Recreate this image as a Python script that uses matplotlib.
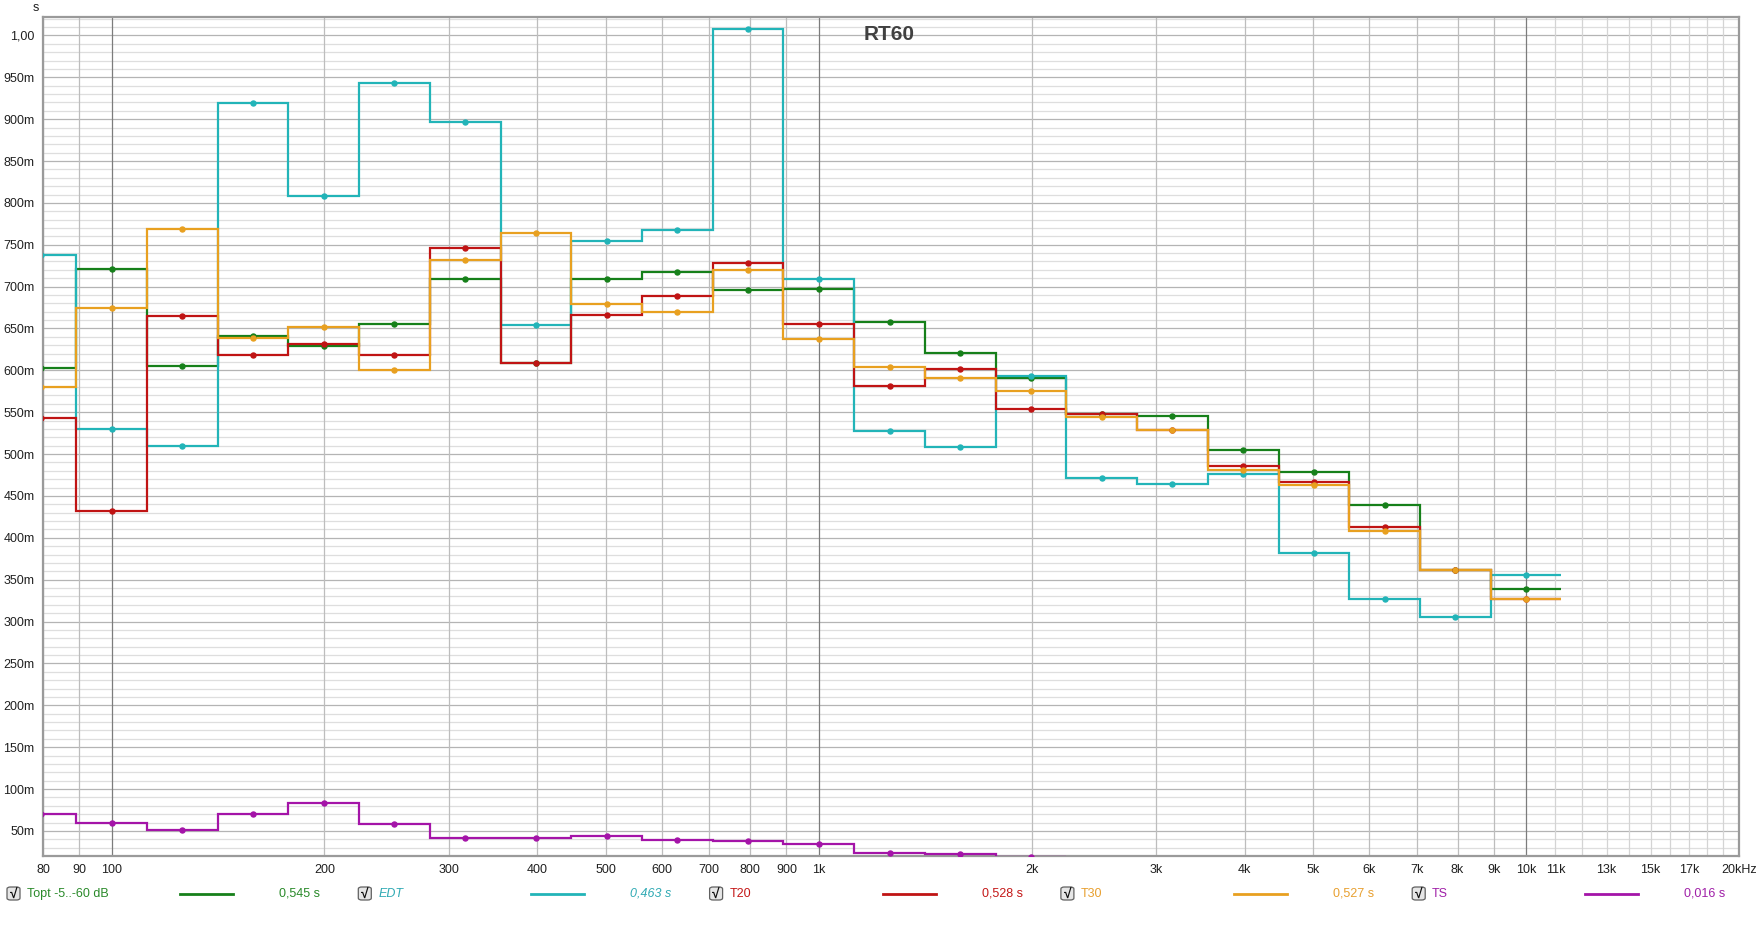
import numpy as np
import matplotlib
matplotlib.use("Agg")
import matplotlib.pyplot as plt
from matplotlib.patches import FancyBboxPatch
from matplotlib.lines import Line2D

plt.rcParams['font.family'] = ['Liberation Sans', 'DejaVu Sans']

# 1/3 octave band centres (Hz)
bands = [80, 100, 125, 160, 200, 250, 315, 400, 500, 630, 800,
         1000, 1250, 1600, 2000, 2500, 3150, 4000, 5000, 6300, 8000, 10000]

# RT60 values in seconds
topt = [0.6025, 0.7208, 0.6049, 0.641, 0.6295, 0.6554, 0.709, 0.609, 0.7092, 0.718, 0.6964,
        0.697, 0.6574, 0.6204, 0.5909, 0.548, 0.5455, 0.505, 0.4786, 0.4387, 0.361, 0.339]
edt = [0.738, 0.5296, 0.5096, 0.919, 0.808, 0.943, 0.897, 0.654, 0.7546, 0.7674, 1.0071,
       0.7088, 0.5272, 0.5084, 0.5933, 0.471, 0.4639, 0.4762, 0.3814, 0.3268, 0.3049, 0.3555]
t20 = [0.5435, 0.432, 0.665, 0.618, 0.632, 0.6187, 0.746, 0.6087, 0.6662, 0.6885, 0.7287,
       0.655, 0.5817, 0.6017, 0.5538, 0.5479, 0.5284, 0.4861, 0.4666, 0.4125, 0.3618, 0.3265]
t30 = [0.580, 0.6745, 0.769, 0.639, 0.652, 0.601, 0.7315, 0.7645, 0.6797, 0.6694, 0.7196,
       0.6371, 0.6037, 0.5905, 0.5754, 0.5446, 0.5284, 0.481, 0.4627, 0.4084, 0.3618, 0.3265]
ts_bands = bands[:15]
ts = [0.070, 0.0596, 0.0508, 0.070, 0.0831, 0.058, 0.0413, 0.042, 0.0444, 0.0392, 0.0384,
      0.0348, 0.0233, 0.022, 0.019]

legend_names = ["Topt -5..-60 dB", "EDT", "T20", "T30", "TS"]
legend_values = ["0,545 s", "0,463 s", "0,528 s", "0,527 s", "0,016 s"]

x_labels = {80: "80", 90: "90", 100: "100", 200: "200", 300: "300", 400: "400", 500: "500",
            600: "600", 700: "700", 800: "800", 900: "900", 1000: "1k", 2000: "2k", 3000: "3k",
            4000: "4k", 5000: "5k", 6000: "6k", 7000: "7k", 8000: "8k", 9000: "9k",
            10000: "10k", 11000: "11k", 13000: "13k", 15000: "15k", 17000: "17k", 20000: "20kHz"}

colors = ['#16801a', '#22b4b8', '#c01414', '#e8a020', '#a414a8']
text_colors = ['#2a8a2a', '#30aab4', '#c41818', '#e8a030', '#a020a8']


def band_geometry(centres):
    n = np.round(10 * np.log10(centres))
    edges = np.append(10 ** ((n - 0.5) / 10), 10 ** ((n[-1] + 0.5) / 10))
    return 10 ** (n / 10), edges


fig = plt.figure(figsize=(17.61, 9.32), dpi=100)
ax = fig.add_axes([43 / 1761, 1 - 856 / 932, (1739 - 43) / 1761, (856 - 17) / 932])
ax.set_xscale('log')
ax.set_xlim(80, 20000)
ax.set_ylim(0.02, 1.022)

# grid: horizontal first, verticals on top
for y in np.arange(0.03, 1.021, 0.01):
    major = abs(round(y * 100) % 5) == 0
    ax.axhline(y, color='#b4b4b4' if major else '#dedede', lw=0.9, zorder=0)
for x in x_labels.keys() | {12000, 14000, 16000, 18000, 19000}:
    if x in (100, 1000, 10000):
        c = '#7c7c7c'
    elif x > 10000:
        c = '#d4d4d4'
    else:
        c = '#bdbdbd'
    ax.axvline(x, color=c, lw=0.9, zorder=1)

series = [(topt, bands), (edt, bands), (t20, bands), (t30, bands), (ts, ts_bands)]
for (vals, bb), col in zip(series, colors):
    centres, edges = band_geometry(np.array(bb, dtype=float))
    ax.stairs(vals, edges, color=col, lw=1.6, baseline=None, zorder=3)
    ax.plot(centres, vals, 'o', color=col, ms=3.6, zorder=4)

ax.minorticks_off()
ax.set_xticks(list(x_labels.keys()))
ax.set_xticklabels(list(x_labels.values()))
for lbl in ax.get_xticklabels():
    if lbl.get_text() in ("11k", "13k", "15k", "17k"):
        lbl.set_color('#a0a0a0')
yt = np.arange(0.05, 1.001, 0.05)
ax.set_yticks(yt)
ax.set_yticklabels(["1,00" if abs(v - 1) < 1e-6 else "%dm" % round(v * 1000) for v in yt])
ax.tick_params(length=0, labelsize=9, pad=6, colors='#202020')
for s in ax.spines.values():
    s.set_color('#9a9a9a')
    s.set_linewidth(1.6)

ax.text(0.499, 0.979, "RT60", transform=ax.transAxes, ha='center', va='center',
        fontsize=15, fontweight='bold', color='#404040')
fig.text(36 / 1761, 1 - 8 / 932, "s", ha='center', va='center', fontsize=9, color='#202020')

# legend row
ly = 1 - 894 / 932
for i, (name, val) in enumerate(zip(legend_names, legend_values)):
    base = 7 + 351.3 * i
    fig.patches.append(FancyBboxPatch((base / 1761, ly - 6 / 932), 13 / 1761, 13 / 932,
                                      boxstyle="round,pad=0,rounding_size=0.002",
                                      transform=fig.transFigure, facecolor='#e6e6e6',
                                      edgecolor='#606060', lw=0.9))
    fig.text((base + 6.5) / 1761, ly + 0.5 / 932, "√", ha='center', va='center',
             fontsize=10, fontweight='bold', color='#101010')
    style = 'italic' if name == "EDT" else 'normal'
    fig.text((base + 20) / 1761, ly, name, ha='left', va='center', fontsize=9,
             color=text_colors[i], style=style)
    fig.lines.append(Line2D([(base + 173) / 1761, (base + 226) / 1761], [ly, ly],
                            transform=fig.transFigure, color=colors[i], lw=2))
    fig.text((base + 313) / 1761, ly, val, ha='right', va='center', fontsize=9,
             color=text_colors[i], style=style)

fig.savefig("out.png", dpi=100, facecolor='white')
